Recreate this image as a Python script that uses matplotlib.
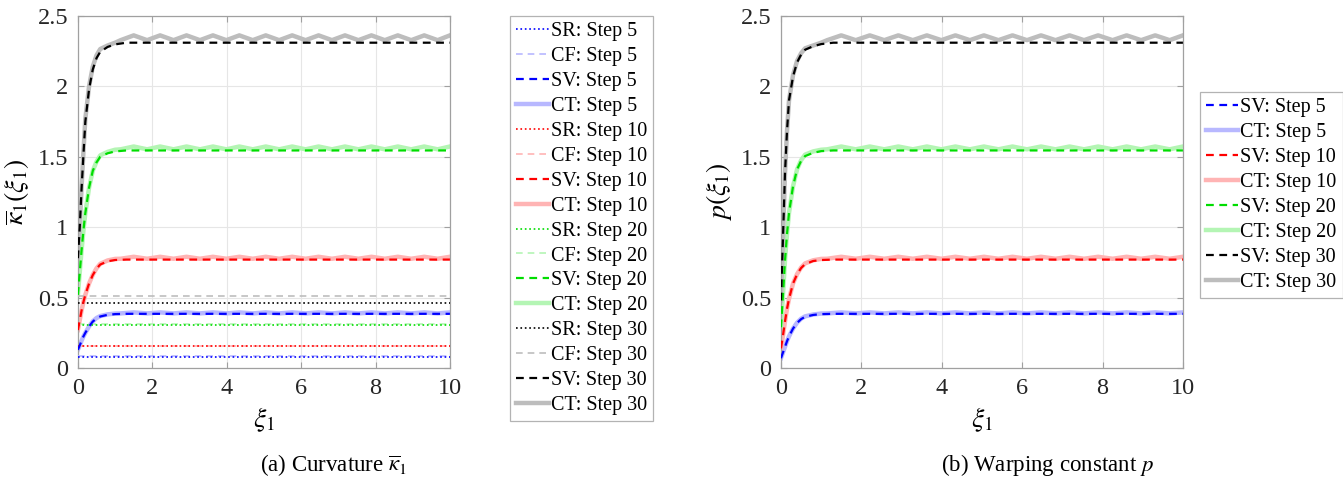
import matplotlib
matplotlib.use("Agg")
import matplotlib.pyplot as plt
from matplotlib.ticker import FormatStrFormatter

plt.rcParams['font.family'] = ['Liberation Serif', 'DejaVu Serif']
plt.rcParams['mathtext.fontset'] = 'stix'

# ---- data ----
steps = [5, 10, 20, 30]

# x samples for the rising part and the flat SV tail
x_rise = [0, 0.05, 0.1, 0.15, 0.2, 0.3, 0.4, 0.5, 0.6, 0.8, 1.0]
x_sv = x_rise + [1.3, 10]
# x samples of the CT ripple (troughs / peaks)
x_wave = [1.15, 1.5, 1.86, 2.21, 2.57, 2.92, 3.28, 3.63, 3.99, 4.34, 4.70, 5.05, 5.41,
          5.76, 6.12, 6.47, 6.83, 7.18, 7.54, 7.89, 8.25, 8.6, 8.96, 9.31, 9.67, 10.0]
x_span = [0, 10]

# SR / CF constant levels (left panel only)
sr_level = [0.077, 0.154, 0.308, 0.462]
cf_level = [0.082, 0.160, 0.312, 0.515]

# SV curves, left panel (curvature)
sv5_a = [0.13, 0.16, 0.195, 0.225, 0.25, 0.295, 0.33, 0.352, 0.366, 0.378, 0.383, 0.385, 0.385]
sv10_a = [0.27, 0.34, 0.41, 0.47, 0.52, 0.60, 0.66, 0.705, 0.735, 0.758, 0.767, 0.77, 0.77]
sv20_a = [0.52, 0.68, 0.84, 0.98, 1.10, 1.28, 1.40, 1.46, 1.50, 1.525, 1.538, 1.545, 1.545]
sv30_a = [0.78, 1.0, 1.28, 1.52, 1.75, 1.98, 2.12, 2.20, 2.245, 2.28, 2.298, 2.31, 2.31]

# SV curves, right panel (warping constant)
sv5_b = [0.07, 0.11, 0.15, 0.19, 0.225, 0.28, 0.32, 0.347, 0.364, 0.377, 0.383, 0.385, 0.385]
sv10_b = [0.14, 0.23, 0.33, 0.42, 0.49, 0.60, 0.665, 0.71, 0.738, 0.76, 0.767, 0.77, 0.77]
sv20_b = [0.29, 0.52, 0.76, 0.95, 1.10, 1.29, 1.41, 1.47, 1.505, 1.528, 1.54, 1.545, 1.545]
sv30_b = [0.48, 0.92, 1.38, 1.68, 1.90, 2.07, 2.17, 2.225, 2.26, 2.285, 2.30, 2.31, 2.31]

# CT rising parts
ct5_rise_a = [0.13, 0.16, 0.195, 0.225, 0.25, 0.295, 0.332, 0.355, 0.369, 0.381, 0.387]
ct10_rise_a = [0.27, 0.34, 0.41, 0.47, 0.52, 0.60, 0.662, 0.708, 0.74, 0.764, 0.775]
ct20_rise_a = [0.52, 0.68, 0.84, 0.98, 1.10, 1.28, 1.40, 1.465, 1.51, 1.535, 1.55]
ct30_rise_a = [0.78, 1.0, 1.29, 1.54, 1.77, 2.0, 2.14, 2.22, 2.265, 2.29, 2.31]
ct5_rise_b = [0.07, 0.11, 0.15, 0.19, 0.225, 0.28, 0.322, 0.35, 0.367, 0.38, 0.387]
ct10_rise_b = [0.14, 0.23, 0.33, 0.42, 0.49, 0.60, 0.667, 0.713, 0.743, 0.765, 0.775]
ct20_rise_b = [0.29, 0.52, 0.76, 0.95, 1.10, 1.29, 1.41, 1.475, 1.515, 1.538, 1.55]
ct30_rise_b = [0.48, 0.92, 1.38, 1.68, 1.90, 2.08, 2.18, 2.235, 2.27, 2.29, 2.31]

# CT ripple (same in both panels)
ct5_wave = [0.388, 0.395, 0.388, 0.395, 0.388, 0.395, 0.388, 0.395, 0.388, 0.395, 0.388, 0.395, 0.388,
            0.395, 0.388, 0.395, 0.388, 0.395, 0.388, 0.395, 0.388, 0.395, 0.388, 0.395, 0.388, 0.395]
ct10_wave = [0.776, 0.79, 0.776, 0.79, 0.776, 0.79, 0.776, 0.79, 0.776, 0.79, 0.776, 0.79, 0.776,
             0.79, 0.776, 0.79, 0.776, 0.79, 0.776, 0.79, 0.776, 0.79, 0.776, 0.79, 0.776, 0.79]
ct20_wave = [1.553, 1.573, 1.553, 1.573, 1.553, 1.573, 1.553, 1.573, 1.553, 1.573, 1.553, 1.573, 1.553,
             1.573, 1.553, 1.573, 1.553, 1.573, 1.553, 1.573, 1.553, 1.573, 1.553, 1.573, 1.553, 1.573]
ct30_wave = [2.328, 2.362, 2.328, 2.362, 2.328, 2.362, 2.328, 2.362, 2.328, 2.362, 2.328, 2.362, 2.328,
             2.362, 2.328, 2.362, 2.328, 2.362, 2.328, 2.362, 2.328, 2.362, 2.328, 2.362, 2.328, 2.362]

dark = ['#0000ff', '#ff0000', '#00dd00', '#000000']
light = ['#b8b8ff', '#ffb4b4', '#b4f5b4', '#bdbdbd']

sv_a = [sv5_a, sv10_a, sv20_a, sv30_a]
sv_b = [sv5_b, sv10_b, sv20_b, sv30_b]
ct_a = [ct5_rise_a + ct5_wave, ct10_rise_a + ct10_wave, ct20_rise_a + ct20_wave, ct30_rise_a + ct30_wave]
ct_b = [ct5_rise_b + ct5_wave, ct10_rise_b + ct10_wave, ct20_rise_b + ct20_wave, ct30_rise_b + ct30_wave]
x_ct = x_rise + x_wave

fig = plt.figure(figsize=(13.43, 4.83), dpi=100)
ax1 = fig.add_axes([0.058, 0.238, 0.277, 0.729])
ax2 = fig.add_axes([0.5815, 0.238, 0.2993, 0.729])


def style_axes(ax, ylabel):
    ax.set_xlim(0, 10)
    ax.set_ylim(0, 2.5)
    ax.set_xticks([0, 2, 4, 6, 8, 10])
    ax.set_yticks([0, 0.5, 1, 1.5, 2, 2.5])
    ax.yaxis.set_major_formatter(FormatStrFormatter('%g'))
    ax.grid(True, color='#e6e6e6', linewidth=0.8)
    ax.set_axisbelow(True)
    for sp in ax.spines.values():
        sp.set_color('#a0a0a0')
        sp.set_linewidth(0.9)
    ax.tick_params(direction='in', length=4, width=0.8, color='#a0a0a0', labelsize=17.5,
                   labelcolor='#262626', top=True, right=True, pad=7)
    ax.set_xlabel(r'$\xi_1$', fontsize=20, labelpad=5)
    ax.set_ylabel(ylabel, fontsize=20, labelpad=5)


# left panel: SR, CF, SV, CT for each step
for i, st in enumerate(steps):
    ax1.plot(x_span, [sr_level[i]] * 2, ':', color=dark[i], lw=1.2, zorder=4,
             label='SR: Step %d' % st)
    ax1.plot(x_span, [cf_level[i]] * 2, '--', color=light[i], lw=1.2, dashes=(4, 3), zorder=3,
             label='CF: Step %d' % st)
    ax1.plot(x_sv, sv_a[i], '--', color=dark[i], lw=1.6, dashes=(3.5, 2.5), zorder=5,
             label='SV: Step %d' % st)
    ax1.plot(x_ct, ct_a[i], '-', color=light[i], lw=3.2, zorder=2,
             label='CT: Step %d' % st)

# right panel: SV, CT for each step
for i, st in enumerate(steps):
    ax2.plot(x_sv, sv_b[i], '--', color=dark[i], lw=1.6, dashes=(3.5, 2.5), zorder=5,
             label='SV: Step %d' % st)
    ax2.plot(x_ct, ct_b[i], '-', color=light[i], lw=3.2, zorder=2,
             label='CT: Step %d' % st)

style_axes(ax1, r'$\overline{\kappa}_1(\xi_1)$')
style_axes(ax2, r'$p(\xi_1)$')

# sub-captions, centred under each panel + legend block
fig.text(0.2487, 0.038, r'(a) Curvature $\overline{\kappa}_1$', ha='center', va='center', fontsize=16.5)
fig.text(0.780, 0.038, r'(b) Warping constant $p$', ha='center', va='center', fontsize=16.5)

leg_kw = dict(loc='upper left', fontsize=14.5, frameon=True, fancybox=False, edgecolor='#a0a0a0',
              handlelength=1.6, handletextpad=0.1, labelspacing=0.29, borderpad=0.3,
              borderaxespad=0)
l1 = ax1.legend(bbox_to_anchor=(0.380, 0.967), bbox_transform=fig.transFigure, **leg_kw)
l2 = ax2.legend(bbox_to_anchor=(0.8935, 0.8095), bbox_transform=fig.transFigure, **leg_kw)
for l in (l1, l2):
    l.get_frame().set_linewidth(0.9)

fig.savefig('out.png', dpi=100)
